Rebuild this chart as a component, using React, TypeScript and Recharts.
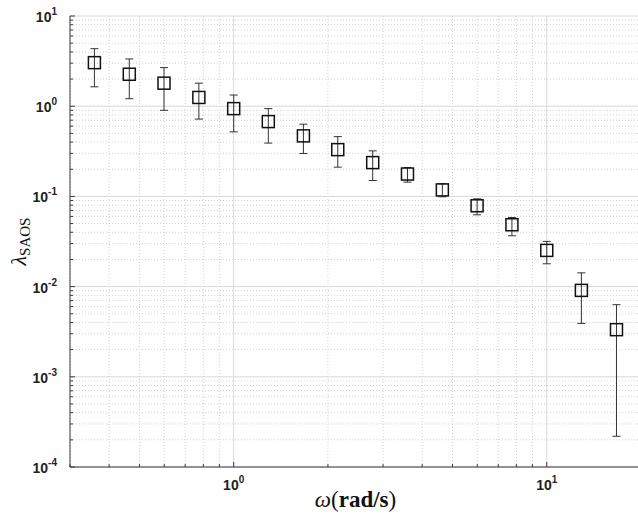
import React from 'react';
import {
  ScatterChart,
  Scatter,
  XAxis,
  YAxis,
  CartesianGrid,
  ErrorBar,
} from 'recharts';

// frequency (rad/s) and measured lambda with its error range
const omega = [0.359, 0.464, 0.599, 0.774, 1.0, 1.29, 1.67, 2.15, 2.78, 3.59, 4.64, 5.99, 7.74, 10.0, 12.9, 16.7];
const lambda = [3.04, 2.26, 1.8, 1.25, 0.94, 0.675, 0.469, 0.33, 0.237, 0.177, 0.118, 0.0787, 0.0485, 0.0252, 0.00908, 0.00333];
const upper = [4.34, 3.34, 2.68, 1.8, 1.33, 0.94, 0.632, 0.46, 0.32, 0.209, 0.138, 0.094, 0.0584, 0.0317, 0.0142, 0.0063];
const lower = [1.64, 1.21, 0.9, 0.72, 0.52, 0.39, 0.299, 0.211, 0.15, 0.144, 0.099, 0.0625, 0.0366, 0.0179, 0.00391, 0.000219];

const xMajor = [1, 10];
const yMajor = [1e-4, 1e-3, 1e-2, 1e-1, 1, 10];

const X_DOMAIN = [0.3, 20];
const Y_DOMAIN = [1e-4, 10];

const minorTicks = (lo: number, hi: number) => {
  const out: number[] = [];
  for (let e = -5; e <= 2; e++) {
    for (let d = 1; d <= 9; d++) {
      const v = d * Math.pow(10, e);
      if (v >= lo * 0.999 && v <= hi * 1.001) out.push(v);
    }
  }
  return out;
};

function isMajor(v: number) {
  const l = Math.log10(v);
  return Math.abs(l - Math.round(l)) < 1e-6;
}

const xAll = minorTicks(X_DOMAIN[0], X_DOMAIN[1]);
const yAll = minorTicks(Y_DOMAIN[0], Y_DOMAIN[1]);
const xMinor = xAll.filter((v) => !isMajor(v));
const yMinor = yAll.filter((v) => !isMajor(v));

const rows = omega.map((w, i) => ({
  x: w,
  y: lambda[i],
  err: [lambda[i] - lower[i], upper[i] - lambda[i]],
}));

const AXIS = '#3a3a3a';
const LABEL = '#222';
const tickFont = { fontFamily: 'Liberation Sans, Arial, sans-serif', fontWeight: 700 };

const XTick = (props: any) => {
  const { x, y, payload } = props;
  const v = payload.value;
  const major = isMajor(v);
  const e = Math.round(Math.log10(v));
  return (
    <g>
      <line x1={x} y1={y} x2={x} y2={y - (major ? 5 : 3)} stroke={AXIS} strokeWidth={1} />
      {major && (
        <text x={x} y={y + 23} textAnchor="middle" fill={LABEL} fontSize={14} {...tickFont}>
          10
          <tspan dy={-7} fontSize={10}>{e}</tspan>
        </text>
      )}
    </g>
  );
};

const TopTick = (props: any) => {
  const { x, y, payload } = props;
  const major = isMajor(payload.value);
  return <line x1={x} y1={y} x2={x} y2={y + (major ? 5 : 3)} stroke={AXIS} strokeWidth={1} />;
};

const YTick = (props: any) => {
  const { x, y, payload } = props;
  const v = payload.value;
  const major = isMajor(v);
  const e = Math.round(Math.log10(v));
  return (
    <g>
      <line x1={x} y1={y} x2={x + (major ? 5 : 3)} y2={y} stroke={AXIS} strokeWidth={1} />
      {major && (
        <text x={x - 13} y={y + 6} textAnchor="end" fill={LABEL} fontSize={14} {...tickFont}>
          10
          <tspan dy={-7} fontSize={10}>{e}</tspan>
        </text>
      )}
    </g>
  );
};

const Square = (props: any) => {
  const { cx, cy } = props;
  if (cx == null || cy == null) return null;
  return <rect x={cx - 6} y={cy - 6} width={12} height={12} fill="none" stroke="#111" strokeWidth={1.5} />;
};

const XLabel = (props: any) => {
  const { viewBox } = props;
  const cx = viewBox.x + viewBox.width / 2;
  return (
    <text x={cx} y={viewBox.y + 40} textAnchor="middle" fill="#111" fontSize={23} fontFamily="Liberation Serif, serif">
      <tspan fontStyle="italic">ω</tspan>
      <tspan>(</tspan>
      <tspan fontWeight={700}>rad/s</tspan>
      <tspan>)</tspan>
    </text>
  );
};

const YLabel = (props: any) => {
  const { viewBox } = props;
  const cx = viewBox.x + 18;
  const cy = viewBox.y + viewBox.height / 2;
  return (
    <text
      x={cx}
      y={cy}
      transform={`rotate(-90 ${cx} ${cy})`}
      textAnchor="middle"
      fill="#111"
      fontSize={22}
      fontFamily="Liberation Serif, serif"
    >
      <tspan fontStyle="italic">λ</tspan>
      <tspan fontSize={15} dy={4}>SAOS</tspan>
    </text>
  );
};

export default function App() {
  return (
    <div style={{ position: 'absolute', left: 0, top: 0, width: 638, height: 518, overflow: 'hidden', background: '#fff' }}>
      <ScatterChart width={660} height={518} margin={{ top: 16, right: 19, left: 8, bottom: 0 }}>
        <CartesianGrid
          horizontalValues={yMinor}
          verticalValues={xMinor}
          stroke="#d0d0d0"
          strokeDasharray="1 2"
        />
        <CartesianGrid horizontalValues={yMajor} verticalValues={xMajor} stroke="#d8d8d8" />
        <XAxis
          dataKey="x"
          type="number"
          scale="log"
          domain={X_DOMAIN}
          allowDataOverflow
          ticks={xAll}
          interval={0}
          tick={<XTick />}
          tickLine={false}
          tickSize={0}
          tickMargin={0}
          height={51}
          axisLine={{ stroke: AXIS }}
          label={<XLabel />}
        />
        <XAxis
          xAxisId="top"
          orientation="top"
          type="number"
          scale="log"
          domain={X_DOMAIN}
          allowDataOverflow
          ticks={xAll}
          interval={0}
          tick={<TopTick />}
          tickLine={false}
          tickSize={0}
          tickMargin={0}
          height={0}
          axisLine={{ stroke: AXIS }}
        />
        <YAxis
          dataKey="y"
          type="number"
          scale="log"
          domain={Y_DOMAIN}
          allowDataOverflow
          ticks={yAll}
          interval={0}
          tick={<YTick />}
          tickLine={false}
          tickSize={0}
          tickMargin={0}
          width={62}
          axisLine={{ stroke: AXIS }}
          label={<YLabel />}
        />
        <Scatter data={rows} shape={<Square />} isAnimationActive={false}>
          <ErrorBar dataKey="err" direction="y" width={4} stroke="#333" strokeWidth={1} isAnimationActive={false} />
        </Scatter>
      </ScatterChart>
    </div>
  );
}
